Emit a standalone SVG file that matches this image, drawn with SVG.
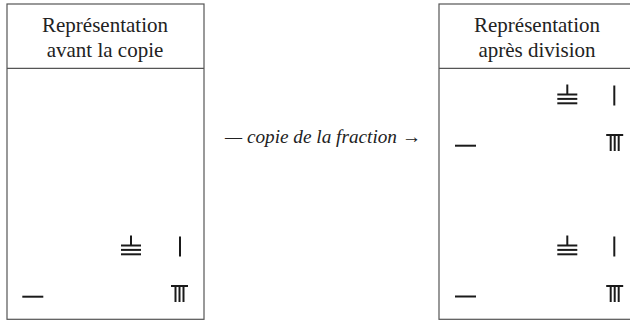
<svg xmlns="http://www.w3.org/2000/svg" width="630" height="321" viewBox="0 0 630 321">
<style>
.box{fill:#fff;stroke:#555;stroke-width:1.2}
.hdr{font-family:"Liberation Serif",serif;font-size:21px;fill:#222;text-anchor:middle}
.lbl{font-family:"Liberation Serif",serif;font-size:18.5px;font-style:italic;fill:#222}
.rod{stroke:#1a1a1a;stroke-width:2;fill:none;stroke-linecap:butt}
</style>
<defs>
<g id="tens8">
<line class="rod" x1="0" y1="-10" x2="0" y2="0"/>
<line class="rod" x1="-10" y1="0" x2="10" y2="0"/>
<line class="rod" x1="-10" y1="4.4" x2="10" y2="4.4"/>
<line class="rod" x1="-10" y1="8.8" x2="10" y2="8.8"/>
</g>
<g id="unit1">
<line class="rod" x1="0" y1="0" x2="0" y2="20"/>
</g>
<g id="tens1">
<line class="rod" x1="-10.5" y1="0" x2="10.5" y2="0"/>
</g>
<g id="unit8">
<line class="rod" x1="-8.5" y1="0" x2="8.5" y2="0"/>
<line class="rod" x1="-4" y1="0" x2="-4" y2="16"/>
<line class="rod" x1="0" y1="0" x2="0" y2="16"/>
<line class="rod" x1="4" y1="0" x2="4" y2="16"/>
</g>
</defs>
<g id="before">
<rect class="box" x="7" y="4" width="197" height="315.3"/>
<line class="box" x1="7" y1="68.3" x2="204" y2="68.3"/>
<text class="hdr" x="105" y="31.5">Représentation</text>
<text class="hdr" x="105" y="56.5">avant la copie</text>
<use href="#tens8" x="131" y="245.5"/>
<use href="#unit1" x="180" y="236.5"/>
<use href="#tens1" x="32.8" y="296.7"/>
<use href="#unit8" x="179.5" y="286"/>
</g>
<g id="after">
<rect class="box" x="439" y="4" width="197" height="315.3"/>
<line class="box" x1="439" y1="68.3" x2="636" y2="68.3"/>
<text class="hdr" x="537" y="31.5">Représentation</text>
<text class="hdr" x="537" y="56.5">après division</text>
<use href="#tens8" x="567.3" y="94.5"/>
<use href="#unit1" x="614.3" y="85.5"/>
<use href="#tens1" x="465.5" y="145.7"/>
<use href="#unit8" x="614.7" y="135"/>
<use href="#tens8" x="567.3" y="245.5"/>
<use href="#unit1" x="614.3" y="236.5"/>
<use href="#tens1" x="465.5" y="296.5"/>
<use href="#unit8" x="614.7" y="286"/>
</g>
<g id="connectors">
<text class="lbl" x="225" y="143" textLength="196" lengthAdjust="spacingAndGlyphs">— copie de la fraction →</text>
</g>
</svg>
